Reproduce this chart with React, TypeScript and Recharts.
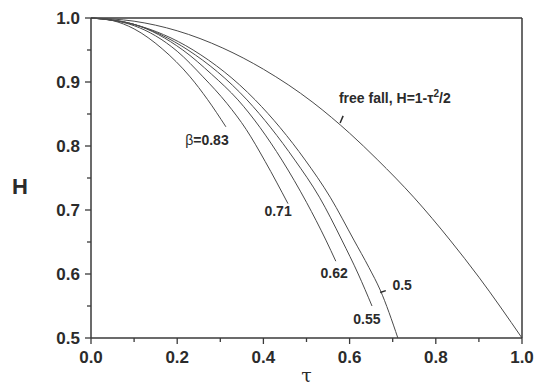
import React from "react";
import { Line, LineChart, ReferenceDot, ReferenceLine, XAxis, YAxis } from "recharts";

// tick values (minor + major)
const tauTicks = [0, 0.1, 0.2, 0.3, 0.4, 0.5, 0.6, 0.7, 0.8, 0.9, 1.0];
const hTicks = [0.5, 0.55, 0.6, 0.65, 0.7, 0.75, 0.8, 0.85, 0.9, 0.95, 1.0];

// curves: tau -> H
const freeFallTau = [0, 0.1, 0.2, 0.306, 0.4, 0.515, 0.6, 0.664, 0.75, 0.833, 0.9, 1.0];
const freeFallH = [1, 0.995, 0.98, 0.953, 0.92, 0.868, 0.82, 0.779, 0.719, 0.653, 0.595, 0.5];

const b083Tau = [0, 0.05, 0.1, 0.165, 0.23, 0.27, 0.313];
const b083H = [1, 0.996, 0.983, 0.952, 0.908, 0.873, 0.83];

const b071Tau = [0, 0.1, 0.2, 0.26, 0.316, 0.36, 0.404, 0.457];
const b071H = [1, 0.988, 0.948, 0.908, 0.866, 0.826, 0.776, 0.71];

const b062Tau = [0, 0.1, 0.213, 0.28, 0.341, 0.443, 0.5, 0.545, 0.568];
const b062H = [1, 0.99, 0.95, 0.912, 0.872, 0.778, 0.712, 0.653, 0.62];

const b055Tau = [0, 0.1, 0.225, 0.362, 0.473, 0.53, 0.582, 0.62, 0.652];
const b055H = [1, 0.99, 0.95, 0.872, 0.778, 0.72, 0.653, 0.6, 0.55];

const b050Tau = [0, 0.1, 0.237, 0.381, 0.497, 0.555, 0.61, 0.645, 0.671, 0.712];
const b050H = [1, 0.99, 0.95, 0.872, 0.778, 0.72, 0.653, 0.61, 0.575, 0.5];

const zip = (ts: number[], hs: number[]) => ts.map((t, i) => ({ t, h: hs[i] }));

const curves = [
  { name: "free fall", data: zip(freeFallTau, freeFallH) },
  { name: "0.83", data: zip(b083Tau, b083H) },
  { name: "0.71", data: zip(b071Tau, b071H) },
  { name: "0.62", data: zip(b062Tau, b062H) },
  { name: "0.55", data: zip(b055Tau, b055H) },
  { name: "0.5", data: zip(b050Tau, b050H) },
];

const FONT = "'Liberation Sans', Arial, sans-serif";
const INK = "#2b2b2b";
const AXIS = "#3a3a3a";
const CURVE = "#4a4a4a";

const XTick = (props: any) => {
  const { x, y, payload } = props;
  const major = Math.round(payload.value * 10) % 2 === 0;
  return (
    <g>
      <line x1={x} x2={x} y1={y} y2={y + (major ? 6 : 4)} stroke={AXIS} strokeWidth={1.3} />
      {major && (
        <text x={x} y={y + 25} textAnchor="middle" fontFamily={FONT} fontWeight="bold" fontSize={17} fill={INK}>
          {payload.value.toFixed(1)}
        </text>
      )}
    </g>
  );
};

const YTick = (props: any) => {
  const { x, y, payload } = props;
  const major = Math.round(payload.value * 100) % 10 === 0;
  return (
    <g>
      <line x1={x} x2={x - (major ? 6 : 4)} y1={y} y2={y} stroke={AXIS} strokeWidth={1.3} />
      {major && (
        <text x={x - 11} y={y + 6} textAnchor="end" fontFamily={FONT} fontWeight="bold" fontSize={17} fill={INK}>
          {payload.value.toFixed(1)}
        </text>
      )}
    </g>
  );
};

const note = (content: React.ReactNode, size = 14) => (p: any) => (
  <text x={p.cx} y={p.cy + size * 0.36} textAnchor="middle" fontFamily={FONT} fontWeight="bold" fontSize={size} fill={INK}>
    {content}
  </text>
);

export default function App() {
  return (
    <div style={{ position: "absolute", left: 0, top: 0, background: "#fff" }}>
      <LineChart width={536} height={385} margin={{ top: 18, right: 14, bottom: 0, left: 0 }}>
        <XAxis
          type="number"
          dataKey="t"
          domain={[0, 1]}
          ticks={tauTicks}
          interval={0}
          tickSize={0}
          tickMargin={0}
          tickLine={false}
          tick={<XTick />}
          height={47}
          axisLine={{ stroke: AXIS, strokeWidth: 1.5 }}
          label={{
            content: ({ viewBox }: any) => (
              <text x={viewBox.x + viewBox.width / 2} y={viewBox.y + 44} textAnchor="middle" fontFamily="'DejaVu Serif', serif" fontSize={19} fill={INK}>
                τ
              </text>
            ),
          }}
        />
        <YAxis
          type="number"
          dataKey="h"
          domain={[0.5, 1]}
          ticks={hTicks}
          interval={0}
          tickSize={0}
          tickMargin={0}
          tickLine={false}
          tick={<YTick />}
          width={91}
          axisLine={{ stroke: AXIS, strokeWidth: 1.5 }}
          label={{
            content: ({ viewBox }: any) => (
              <text x={viewBox.x + 20} y={viewBox.y + viewBox.height / 2 + 16} textAnchor="middle" fontFamily={FONT} fontWeight="bold" fontSize={22} fill={INK}>
                H
              </text>
            ),
          }}
        />
        <ReferenceLine y={1} stroke={AXIS} strokeWidth={1.5} />
        <ReferenceLine x={1} stroke={AXIS} strokeWidth={1.5} />
        {curves.map((c) => (
          <Line
            key={c.name}
            data={c.data}
            dataKey="h"
            type="monotone"
            stroke={CURVE}
            strokeWidth={1}
            dot={false}
            isAnimationActive={false}
          />
        ))}
        <ReferenceLine segment={[{ x: 0.578, y: 0.836 }, { x: 0.585, y: 0.847 }]} stroke={INK} strokeWidth={1.5} />
        <ReferenceLine segment={[{ x: 0.671, y: 0.571 }, { x: 0.684, y: 0.574 }]} stroke={INK} strokeWidth={1.5} />
        <ReferenceDot
          x={0.705}
          y={0.875}
          r={1}
          shape={note(
            <>
              free fall, H=1-τ<tspan dy={-6} fontSize={10}>2</tspan>
              <tspan dy={6}>/2</tspan>
            </>,
          )}
        />
        <ReferenceDot
          x={0.269}
          y={0.809}
          r={1}
          shape={note(
            <>
              <tspan fontWeight="normal">β</tspan>=0.83
            </>,
          )}
        />
        <ReferenceDot x={0.434} y={0.698} r={1} shape={note("0.71")} />
        <ReferenceDot x={0.564} y={0.602} r={1} shape={note("0.62")} />
        <ReferenceDot x={0.64} y={0.53} r={1} shape={note("0.55")} />
        <ReferenceDot x={0.722} y={0.583} r={1} shape={note("0.5")} />
      </LineChart>
    </div>
  );
}
